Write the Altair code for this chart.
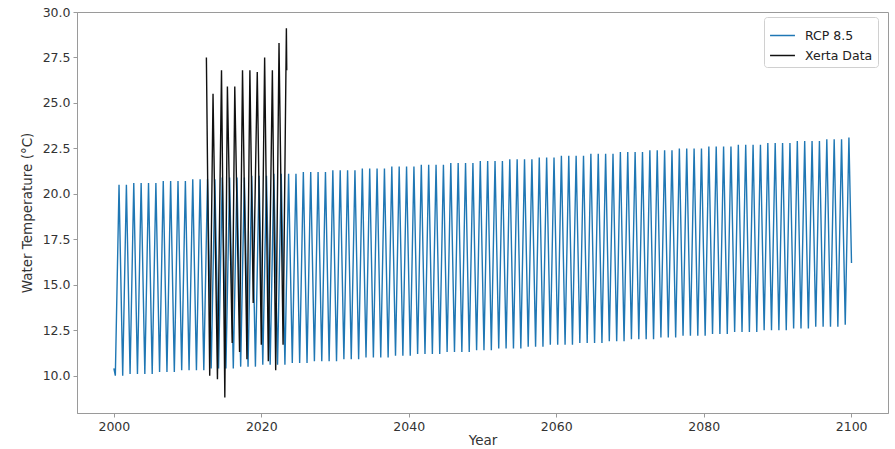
import altair as alt
import pandas as pd

# RCP 8.5 projection: yearly summer peaks and winter troughs, 2000-2099 (°C)
rcp_years = list(range(2000, 2100))
rcp_peaks = [
    20.5, 20.5, 20.6, 20.6, 20.6, 20.6, 20.7, 20.7, 20.7, 20.7,
    20.8, 20.8, 20.8, 20.8, 20.9, 20.9, 20.9, 20.9, 21.0, 21.0,
    21.0, 21.1, 21.1, 21.1, 21.1, 21.2, 21.2, 21.2, 21.2, 21.3,
    21.3, 21.3, 21.3, 21.4, 21.4, 21.4, 21.4, 21.5, 21.5, 21.5,
    21.5, 21.6, 21.6, 21.6, 21.6, 21.7, 21.7, 21.7, 21.7, 21.8,
    21.8, 21.8, 21.8, 21.9, 21.9, 21.9, 21.9, 22.0, 22.0, 22.0,
    22.1, 22.1, 22.1, 22.1, 22.2, 22.2, 22.2, 22.2, 22.3, 22.3,
    22.3, 22.3, 22.4, 22.4, 22.4, 22.4, 22.5, 22.5, 22.5, 22.5,
    22.6, 22.6, 22.6, 22.6, 22.7, 22.7, 22.7, 22.7, 22.8, 22.8,
    22.8, 22.8, 22.9, 22.9, 22.9, 22.9, 23.0, 23.0, 23.0, 23.1,
]
rcp_troughs = [
    10.0, 10.0, 10.1, 10.1, 10.1, 10.1, 10.2, 10.2, 10.2, 10.3,
    10.3, 10.3, 10.3, 10.4, 10.4, 10.4, 10.4, 10.5, 10.5, 10.5,
    10.6, 10.6, 10.6, 10.6, 10.7, 10.7, 10.7, 10.8, 10.8, 10.8,
    10.8, 10.9, 10.9, 10.9, 11.0, 11.0, 11.0, 11.0, 11.1, 11.1,
    11.1, 11.2, 11.2, 11.2, 11.2, 11.3, 11.3, 11.3, 11.3, 11.4,
    11.4, 11.4, 11.5, 11.5, 11.5, 11.5, 11.6, 11.6, 11.6, 11.7,
    11.7, 11.7, 11.7, 11.8, 11.8, 11.8, 11.8, 11.9, 11.9, 11.9,
    12.0, 12.0, 12.0, 12.0, 12.1, 12.1, 12.1, 12.2, 12.2, 12.2,
    12.2, 12.3, 12.3, 12.3, 12.4, 12.4, 12.4, 12.4, 12.5, 12.5,
    12.5, 12.5, 12.6, 12.6, 12.6, 12.7, 12.7, 12.7, 12.7, 12.8,
]
rcp_start = (2000.0, 10.4)
rcp_end = (2100.05, 16.2)

# Observed Xerta record (decimal year, °C)
xerta_time = [
    2012.55, 2013.0, 2013.45, 2014.05, 2014.6, 2015.05, 2015.4, 2016.05,
    2016.4, 2017.05, 2017.45, 2018.05, 2018.45, 2018.9, 2019.45, 2020.0,
    2020.45, 2020.95, 2021.5, 2021.95, 2022.4, 2022.95, 2023.4, 2023.45,
]
xerta_temp = [
    27.5, 10.0, 25.5, 9.8, 26.8, 8.8, 25.9, 11.8,
    25.9, 11.3, 26.8, 10.9, 26.8, 14.0, 26.7, 11.7,
    27.5, 10.8, 26.8, 10.3, 28.3, 11.7, 29.1, 26.8,
]

series_names = ["RCP 8.5", "Xerta Data"]
series_colors = ["#1f77b4", "#111111"]

# Assemble the seasonal zigzag: trough early in the year, peak late summer
rcp_t = [rcp_start[0]]
rcp_v = [rcp_start[1]]
for yr, lo, hi in zip(rcp_years, rcp_troughs, rcp_peaks):
    rcp_t += [yr + 0.2, yr + 0.7]
    rcp_v += [lo, hi]
rcp_t.append(rcp_end[0])
rcp_v.append(rcp_end[1])

rcp_df = pd.DataFrame({"year": rcp_t, "temp": rcp_v, "series": series_names[0]})
rcp_df["idx"] = range(len(rcp_df))
xerta_df = pd.DataFrame({"year": xerta_time, "temp": xerta_temp, "series": series_names[1]})
xerta_df["idx"] = range(len(xerta_df))

x_enc = alt.X(
    "year:Q",
    title="Year",
    scale=alt.Scale(domain=[1995, 2105], nice=False, zero=False),
    axis=alt.Axis(values=[2000, 2020, 2040, 2060, 2080, 2100], format="d"),
)
y_enc = alt.Y(
    "temp:Q",
    title="Water Temperature (°C)",
    scale=alt.Scale(domain=[7.95, 30.0], nice=False, zero=False),
    axis=alt.Axis(values=[10, 12.5, 15, 17.5, 20, 22.5, 25, 27.5, 30], format=".1f"),
)
color_enc = alt.Color(
    "series:N",
    title=None,
    scale=alt.Scale(domain=series_names, range=series_colors),
    legend=alt.Legend(
        orient="none",
        legendX=687,
        legendY=5,
        symbolType="stroke",
        symbolSize=620,
        symbolStrokeWidth=1.5,
        labelFontSize=12.5,
        labelColor="#222",
        rowPadding=-8,
        padding=5,
        fillColor="white",
        strokeColor="#d0d0d0",
        cornerRadius=3,
        labelOffset=9,
    ),
)

rcp_line = alt.Chart(rcp_df).mark_line(strokeWidth=1.4).encode(
    x=x_enc, y=y_enc, color=color_enc, order="idx:Q"
)
xerta_line = alt.Chart(xerta_df).mark_line(strokeWidth=1.4).encode(
    x=x_enc, y=y_enc, color=color_enc, order="idx:Q"
)

chart = (
    alt.layer(rcp_line, xerta_line)
    .properties(
        width=811,
        height=401,
        autosize=alt.AutoSizeParams(type="none"),
        padding={"left": 77, "top": 12, "right": 7, "bottom": 36},
        background="white",
    )
    .configure_view(stroke="#9a9a9a", strokeWidth=1)
    .configure_axis(
        grid=False,
        domainColor="#9a9a9a",
        tickColor="#9a9a9a",
        tickSize=4,
        labelFont="DejaVu Sans",
        labelFontSize=12.5,
        labelColor="#333",
        titleFont="DejaVu Sans",
        titleFontSize=13.5,
        titleFontWeight="normal",
        titleColor="#333",
        labelPadding=3,
    )
    .configure_axisY(titlePadding=8)
    .configure_axisX(titlePadding=1)
    .configure_legend(labelFont="DejaVu Sans")
)

chart.save("out.html", embed_options={"renderer": "svg", "actions": False})
